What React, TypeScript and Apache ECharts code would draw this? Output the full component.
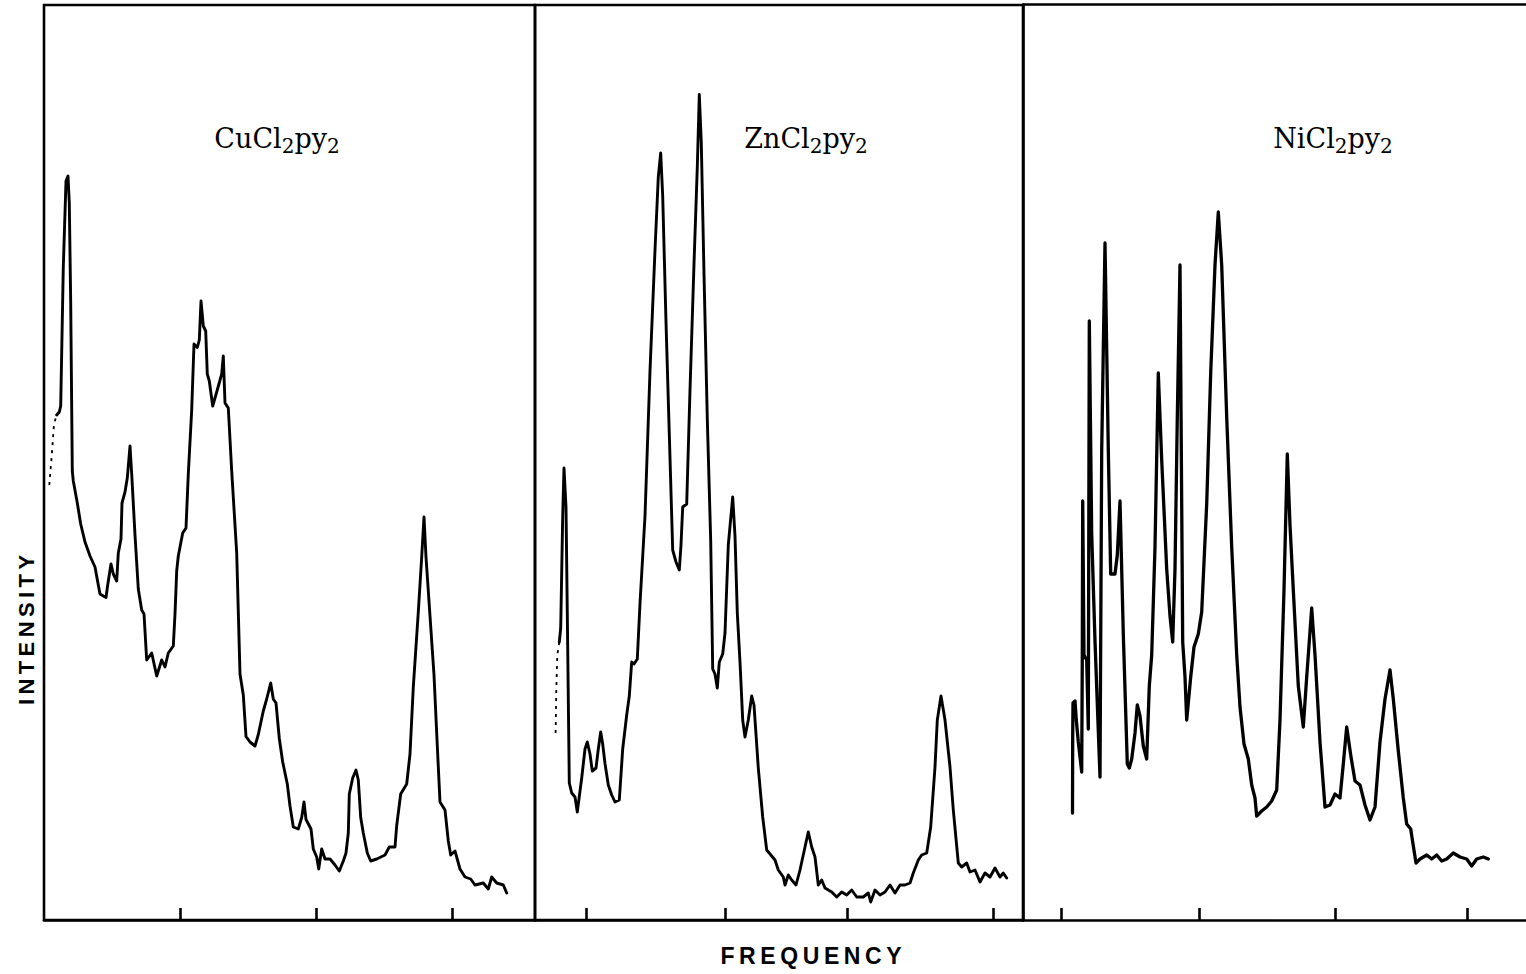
import React, { useEffect, useRef } from "react";
import * as echarts from "echarts";

// Spectra: [relative frequency, intensity] pairs, arbitrary units.
const cuLeadIn: number[][] = [
  [1.06, 43.5], [1.54, 46.4], [2.0, 49.6], [2.54, 50.5],
];
const cuSpectrum: number[][] = [
  [2.54, 50.5], [3.06, 50.8], [3.34, 51.4], [3.86, 65.3], [4.4, 73.9], [4.8, 74.4], [5.06, 71.7],
  [5.34, 61.7], [5.66, 44.9], [5.86, 43.9], [6.66, 41.7], [7.34, 39.6], [8.2, 37.8], [9.2, 36.4],
  [10.2, 35.3], [10.86, 33.5], [11.2, 32.6], [11.86, 32.4], [12.4, 32.25], [12.74, 33.5], [13.4, 35.6],
  [13.86, 34.6], [14.54, 33.9], [14.86, 36.7], [15.4, 38.1], [15.6, 41.7], [16.2, 42.8], [16.66, 44.2],
  [17.2, 47.4], [17.54, 44.6], [18.2, 38.5], [18.86, 33.1], [19.54, 31.0], [20.0, 30.6], [20.54, 26.0],
  [21.54, 26.7], [22.54, 24.4], [23.54, 26.0], [24.2, 25.3], [24.86, 26.7], [25.86, 27.4], [26.2, 30.6],
  [26.54, 34.9], [26.86, 36.4], [27.74, 38.7], [28.4, 39.2], [28.86, 44.6], [29.54, 51.0], [30.0, 57.6],
  [30.66, 57.25], [31.06, 58.0], [31.4, 61.9], [31.86, 59.4], [32.34, 58.9], [32.66, 54.6], [33.06, 53.9],
  [33.74, 51.4], [34.54, 52.8], [35.54, 54.6], [35.86, 56.4], [36.2, 51.7], [36.86, 51.2], [37.54, 44.9],
  [38.54, 36.7], [39.2, 24.6], [39.86, 22.5], [40.4, 18.35], [41.2, 17.8], [42.2, 17.4], [42.86, 18.55],
  [43.86, 20.9], [44.54, 22.1], [45.34, 23.7], [45.86, 22.1], [46.4, 21.7], [47.06, 18.15], [47.74, 15.8],
  [48.66, 13.6], [49.2, 11.4], [49.86, 9.3], [50.86, 9.1], [51.54, 10.25], [52.0, 11.8], [52.4, 10.05],
  [53.4, 9.1], [53.86, 7.1], [54.54, 6.3], [54.94, 5.1], [55.54, 7.1], [56.2, 6.1], [57.2, 6.1],
  [58.2, 5.5], [59.06, 4.9], [59.86, 5.9], [60.4, 6.7], [60.86, 8.7], [61.06, 12.6], [61.74, 14.2],
  [62.4, 15.0], [62.86, 14.0], [63.34, 10.25], [63.86, 8.7], [64.66, 6.7], [65.34, 5.9], [66.54, 6.1],
  [68.2, 6.5], [69.06, 7.3], [70.2, 7.3], [70.54, 9.45], [71.34, 12.6], [72.54, 13.6], [73.2, 16.6],
  [73.86, 23.3], [74.86, 30.8], [75.54, 36.3], [76.0, 40.3], [76.4, 36.3], [77.2, 30.4], [78.0, 24.5],
  [78.66, 17.4], [79.2, 11.8], [80.2, 11.0], [80.86, 7.9], [81.34, 6.5], [82.2, 6.9], [83.2, 5.1],
  [84.2, 4.3], [85.34, 4.1], [86.2, 3.5], [87.86, 3.7], [88.86, 3.1], [89.54, 4.3], [90.54, 3.7],
  [91.86, 3.5], [92.54, 2.7],
];

const znLeadIn: number[][] = [
  [4.12, 18.7], [4.26, 23.0], [4.46, 26.5], [4.86, 27.8],
];
const znSpectrum: number[][] = [
  [4.86, 27.8], [5.14, 29.2], [5.54, 40.4], [5.8, 45.2], [6.2, 41.3], [6.46, 30.7], [6.86, 13.7],
  [7.34, 12.7], [8.0, 12.3], [8.46, 10.8], [9.34, 14.2], [10.0, 17.1], [10.46, 17.8], [11.0, 16.6],
  [11.46, 14.9], [12.2, 15.2], [12.66, 17.1], [13.14, 18.8], [13.54, 17.6], [14.0, 15.65], [14.66, 13.5],
  [15.34, 12.5], [16.0, 11.8], [16.86, 12.0], [17.54, 17.1], [18.34, 20.5], [18.86, 22.4], [19.34, 25.8],
  [19.8, 25.6], [20.46, 26.1], [21.0, 31.65], [22.0, 40.4], [23.0, 54.9], [24.0, 67.0], [24.66, 74.3],
  [25.14, 76.7], [25.54, 72.4], [26.2, 59.8], [27.0, 46.2], [27.54, 37.0], [28.2, 35.8], [28.86, 35.0],
  [29.2, 37.5], [29.54, 41.3], [30.34, 41.6], [31.0, 53.0], [31.8, 65.6], [32.46, 75.3], [32.86, 82.55],
  [33.26, 77.7], [33.8, 64.6], [34.46, 50.1], [35.14, 37.95], [35.54, 25.1], [36.0, 24.6], [36.46, 23.2],
  [36.86, 25.8], [37.54, 26.6], [38.0, 28.7], [38.66, 37.5], [39.54, 42.3], [40.0, 38.4], [40.46, 30.7],
  [41.0, 25.8], [41.54, 20.0], [42.0, 18.3], [42.66, 20.0], [43.34, 22.4], [43.8, 21.5], [44.66, 15.2],
  [45.54, 10.3], [46.34, 7.0], [48.0, 6.0], [48.66, 5.0], [49.66, 4.3], [50.0, 3.5], [50.66, 4.5],
  [51.34, 4.0], [52.2, 3.5], [53.0, 5.0], [54.0, 7.3], [54.66, 8.8], [55.34, 7.3], [56.0, 6.3],
  [56.66, 3.5], [57.34, 4.0], [58.0, 3.2], [59.34, 2.8], [60.34, 2.3], [61.34, 2.8], [62.34, 2.5],
  [63.34, 3.0], [64.34, 2.3], [65.66, 2.3], [66.66, 2.7], [67.14, 1.8], [68.0, 3.0], [69.0, 2.5],
  [70.0, 2.8], [71.0, 3.5], [72.0, 2.7], [73.0, 3.5], [74.0, 3.5], [75.0, 3.7], [75.66, 4.7],
  [76.66, 6.0], [77.34, 6.5], [78.34, 6.7], [79.14, 9.3], [80.0, 15.3], [80.46, 20.0], [81.2, 22.4],
  [82.0, 20.0], [83.0, 15.3], [83.66, 11.0], [84.66, 5.7], [85.34, 5.3], [86.34, 5.7], [87.0, 4.8],
  [88.0, 5.0], [89.0, 3.8], [90.0, 4.7], [91.0, 4.3], [92.0, 5.2], [93.0, 4.3], [93.66, 4.7],
  [94.34, 4.2],
];

const niSpectrum: number[][] = [
  [9.9, 10.7], [9.94, 18.3], [10.0, 21.7], [10.4, 21.9], [10.66, 20.0], [11.06, 17.8], [11.74, 14.8],
  [11.86, 26.5], [11.94, 41.9], [12.2, 26.5], [12.74, 26.0], [13.06, 19.1], [13.26, 59.9], [13.74, 38.6],
  [14.4, 27.9], [15.4, 14.3], [15.74, 47.0], [16.4, 67.7], [17.06, 47.0], [17.54, 34.6], [18.4, 34.6],
  [18.86, 36.5], [19.4, 41.9], [20.06, 28.6], [20.86, 15.6], [21.26, 15.2], [21.74, 16.1], [22.4, 18.7],
  [22.86, 21.5], [23.4, 20.4], [24.06, 17.4], [24.74, 16.1], [25.26, 23.4], [25.74, 26.5], [26.4, 37.3],
  [27.06, 54.7], [27.74, 46.0], [28.74, 35.1], [29.4, 30.4], [29.94, 27.8], [30.4, 35.1], [30.86, 50.3],
  [31.4, 65.5], [31.74, 41.6], [31.94, 27.8], [32.4, 24.3], [32.74, 20.0], [33.54, 24.3], [34.2, 27.3],
  [35.06, 28.6], [35.74, 30.8], [36.74, 41.6], [37.54, 54.7], [38.4, 65.5], [39.06, 70.8], [39.74, 65.5],
  [40.74, 50.3], [41.74, 37.3], [42.74, 26.5], [43.4, 21.3], [44.2, 17.6], [45.06, 16.1], [45.74, 13.5],
  [46.4, 12.2], [46.74, 10.4], [47.74, 10.9], [48.74, 11.3], [49.74, 11.9], [50.74, 13.0], [51.4, 20.0],
  [52.2, 33.0], [52.86, 46.6], [53.4, 39.5], [54.06, 33.0], [55.06, 23.4], [56.06, 19.3], [56.74, 24.3],
  [57.74, 31.2], [58.4, 26.5], [59.4, 17.8], [60.4, 11.3], [61.4, 11.5], [62.4, 12.6], [63.4, 12.2],
  [64.06, 15.6], [64.74, 19.3], [65.54, 16.5], [66.4, 13.9], [67.4, 13.5], [68.4, 11.5], [69.4, 10.0],
  [70.4, 11.3], [71.4, 17.8], [72.4, 22.1], [73.4, 25.0], [74.06, 22.1], [75.06, 16.9], [76.06, 12.2],
  [76.74, 9.6], [77.54, 9.1], [77.94, 7.8], [78.6, 5.7], [79.4, 6.1], [80.74, 6.5], [81.74, 6.1],
  [82.74, 6.5], [83.74, 5.9], [84.74, 6.1], [86.06, 6.7], [87.4, 6.3], [88.74, 6.1], [89.74, 5.4],
  [90.74, 6.1], [92.06, 6.3], [93.06, 6.1],
];

// Tick marks along each frequency axis
const cuTicks = [27.2, 54.4, 81.6];
const znTicks = [10.2, 38.0, 62.4, 91.6];
const niTicks = [7.6, 35.2, 62.4, 88.8];

// Compound labels: metal name + "Cl2py2"
const metals = ["Cu", "Zn", "Ni"];
const intensityLabel = "INTENSITY";
const frequencyLabel = "FREQUENCY";
const intensityMax = 91.5;

const INK = "#000";
const FRAME_W = 2.6;

function spaced(s: string) {
  return s.split("").join("\u2009");
}

export default function App() {
  const ref = useRef<HTMLDivElement>(null);

  useEffect(() => {
    if (!ref.current) return;
    const chart = echarts.init(ref.current, null, { renderer: "svg" });

    const top = 5;
    const height = 915;
    // The last panel is open on the right: it runs off the page edge.
    const panels = [
      { left: 44, width: 491, closed: true, lead: cuLeadIn, main: cuSpectrum, ticks: cuTicks, labelX: 277, lw: 2.9 },
      { left: 535, width: 488, closed: true, lead: znLeadIn, main: znSpectrum, ticks: znTicks, labelX: 806, lw: 2.9 },
      { left: 1023, width: 503, closed: false, lead: null as number[][] | null, main: niSpectrum, ticks: niTicks, labelX: 1333, lw: 3.3 },
    ];

    const grid = panels.map((p) => ({
      left: p.left,
      top,
      width: p.width,
      height,
      show: p.closed,
      borderColor: INK,
      borderWidth: FRAME_W,
      backgroundColor: "transparent",
    }));

    const xAxis: any[] = panels.map((p, i) => ({
      type: "value",
      gridIndex: i,
      position: "bottom",
      min: 0,
      max: p.width / 5,
      axisLine: { show: true, onZero: false, lineStyle: { color: INK, width: FRAME_W } },
      axisTick: {
        show: true,
        inside: true,
        length: 12,
        customValues: p.ticks,
        lineStyle: { color: INK, width: FRAME_W },
      },
      axisLabel: { show: false },
      splitLine: { show: false },
    }));
    // top edge of the open panel
    xAxis.push({
      type: "value",
      gridIndex: 2,
      position: "top",
      offset: 0.5,
      min: 0,
      max: panels[2].width / 5,
      axisLine: { show: true, onZero: false, lineStyle: { color: INK, width: FRAME_W } },
      axisTick: { show: false },
      axisLabel: { show: false },
      splitLine: { show: false },
    });

    const yAxis = panels.map((p, i) => ({
      type: "value",
      gridIndex: i,
      min: 0,
      max: intensityMax,
      axisLine: { show: !p.closed, onZero: false, lineStyle: { color: INK, width: FRAME_W } },
      axisTick: { show: false },
      axisLabel: { show: false },
      splitLine: { show: false },
    }));

    const series: any[] = [];
    panels.forEach((p, i) => {
      series.push({
        type: "line",
        xAxisIndex: i,
        yAxisIndex: i,
        data: p.main,
        showSymbol: false,
        symbol: "none",
        lineStyle: { color: INK, width: p.lw, join: "round", cap: "round" },
        silent: true,
      });
      if (p.lead) {
        series.push({
          type: "line",
          xAxisIndex: i,
          yAxisIndex: i,
          data: p.lead,
          showSymbol: false,
          symbol: "none",
          lineStyle: { color: INK, width: 1.8, type: [3, 5] },
          silent: true,
        });
      }
    });

    const titleGraphics = panels.map((p, i) => ({
      type: "text",
      x: p.labelX,
      y: 138,
      style: {
        text: `{m|${metals[i]}Cl}{s|2}{m|py}{s|2}`,
        align: "center",
        verticalAlign: "middle",
        fill: INK,
        rich: {
          m: { fontFamily: "DejaVu Serif", fontSize: 27, lineHeight: 36, fill: INK },
          s: { fontFamily: "DejaVu Serif", fontSize: 20, lineHeight: 20, verticalAlign: "bottom", fill: INK },
        },
      },
    }));

    chart.setOption({
      animation: false,
      backgroundColor: "#fff",
      grid,
      xAxis,
      yAxis,
      series,
      graphic: [
        ...titleGraphics,
        {
          type: "text",
          x: 26,
          y: 630,
          rotation: Math.PI / 2,
          style: {
            text: spaced(intensityLabel),
            align: "center",
            verticalAlign: "middle",
            fontFamily: "Liberation Sans",
            fontWeight: "bold",
            fontSize: 22,
            fill: INK,
          },
        },
        {
          type: "text",
          x: 811,
          y: 956,
          style: {
            text: spaced(frequencyLabel),
            align: "center",
            verticalAlign: "middle",
            fontFamily: "Liberation Sans",
            fontWeight: "bold",
            fontSize: 23,
            fill: INK,
          },
        },
      ],
    });

    return () => chart.dispose();
  }, []);

  return (
    <div
      ref={ref}
      style={{ position: "fixed", left: 0, top: 0, width: 1526, height: 974, background: "#fff" }}
    />
  );
}
